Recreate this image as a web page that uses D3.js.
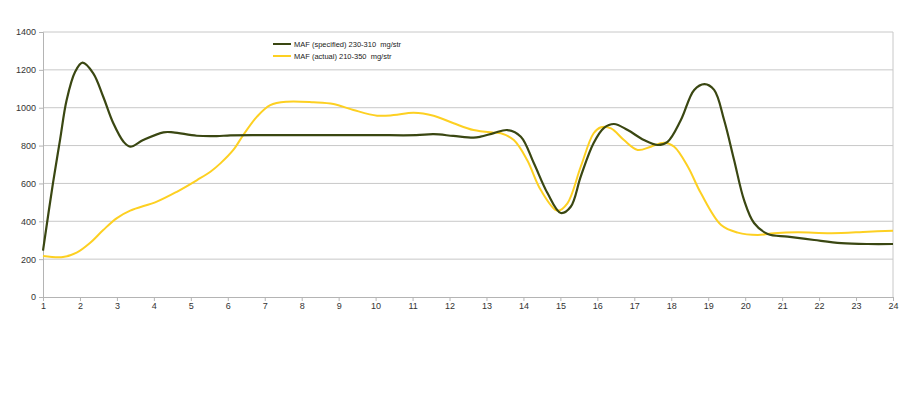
<!DOCTYPE html>
<html>
<head>
<meta charset="utf-8">
<script src="https://cdn.jsdelivr.net/npm/d3@7"></script>
<style>
  body { margin: 0; background: #fff; }
  text { font-family: "Liberation Sans", Arial, sans-serif; }
</style>
</head>
<body>
<div id="chart"></div>
<script>
// series (x = position on the 1..24 axis)
const specX = [1, 1.27, 1.46, 1.64, 1.87, 2.07, 2.36, 2.63, 2.9, 3.18, 3.36, 3.71, 4.26, 4.52, 5.16, 5.7, 6.07,
  7, 8, 9, 10, 11.1, 11.57, 12.1, 12.65, 12.84, 13.2, 13.57, 13.93, 14.28, 14.65, 15.01, 15.28, 15.55, 15.9,
  16.18, 16.45, 16.82, 17.26, 17.63, 17.9, 18.26, 18.62, 18.9, 19.16, 19.43, 19.7, 19.97, 20.24, 20.61,
  21.15, 21.87, 22.6, 23.32, 24];
const specVal = [245, 602, 829, 1041, 1190, 1238, 1182, 1058, 919, 820, 794, 829, 870, 870, 852, 850, 854,
  855, 855, 855, 855, 855, 860, 851, 842, 847, 866, 882, 847, 708, 549, 444, 477, 636, 813,
  893, 914, 882, 829, 803, 820, 935, 1094, 1125, 1094, 935, 724, 512, 391, 333,
  319, 301, 285, 280, 280];

const actX = [1, 1.54, 1.91, 2.27, 2.63, 3, 3.36, 4.08, 4.62, 5.17, 5.53, 5.8, 6.15, 6.42, 6.79, 7.15, 7.6,
  8.32, 8.86, 9.4, 10.04, 10.49, 11.03, 11.57, 12.11, 12.65, 13.2, 13.39, 13.74, 14.1, 14.47, 14.92, 15.19,
  15.55, 15.9, 16.1, 16.37, 16.72, 17.09, 17.45, 17.81, 18.08, 18.45, 18.8, 19.35, 19.8, 20.34, 20.78,
  21.42, 22.33, 23.32, 24];
const actVal = [217, 211, 234, 285, 354, 417, 456, 504, 556, 618, 662, 706, 777, 856, 953, 1014, 1032,
  1029, 1020, 988, 958, 961, 974, 958, 918, 882, 868, 865, 829, 724, 565, 456, 495,
  688, 865, 897, 891, 829, 777, 794, 815, 794, 688, 549, 380, 340, 328, 337,
  342, 337, 345, 350];

const xTicks = d3.range(1, 25);
const yTicks = [0, 200, 400, 600, 800, 1000, 1200, 1400];
const seriesNames = ["MAF (specified) 230-310  mg/str", "MAF (actual) 210-350  mg/str"];
const seriesColors = ["#3a4712", "#fdd022"];

const W = 900, H = 408;
const margin = {top: 32, right: 7, bottom: 111, left: 43};
const width = W - margin.left - margin.right,
      height = H - margin.top - margin.bottom;

const svg = d3.select("#chart").append("svg")
  .attr("width", W).attr("height", H)
  .append("g")
  .attr("transform", `translate(${margin.left},${margin.top})`);

const x = d3.scaleLinear().domain([1, 24]).range([0, width]);
const y = d3.scaleLinear().domain([0, 1400]).range([height, 0]);

// gridlines
svg.append("g").selectAll("line")
  .data(yTicks.filter(d => d > 0))
  .join("line")
  .attr("x1", 0).attr("x2", width)
  .attr("y1", d => y(d)).attr("y2", d => y(d))
  .attr("stroke", "#c8c8c8").attr("stroke-width", 1);

// right frame line
svg.append("line")
  .attr("x1", width).attr("x2", width)
  .attr("y1", 0).attr("y2", height)
  .attr("stroke", "#c8c8c8");

// Y axis
const yAxis = svg.append("g")
  .call(d3.axisLeft(y).tickValues(yTicks).tickSize(4).tickPadding(3).tickFormat(d3.format("d")));
// X axis
const xAxis = svg.append("g")
  .attr("transform", `translate(0,${height})`)
  .call(d3.axisBottom(x).tickValues(xTicks).tickSize(4).tickPadding(2).tickFormat(d3.format("d")));

[yAxis, xAxis].forEach(a => {
  a.select(".domain").attr("stroke", "#b4b4b4");
  a.selectAll(".tick line").attr("stroke", "#b4b4b4");
  a.selectAll(".tick text").attr("fill", "#333").style("font-size", "9px");
});

// lines
const line = d3.line()
  .x(d => x(d[0]))
  .y(d => y(d[1]))
  .curve(d3.curveCatmullRom.alpha(0.5));

const series = [d3.zip(specX, specVal), d3.zip(actX, actVal)];

svg.append("path")
  .datum(series[1])
  .attr("fill", "none")
  .attr("stroke", seriesColors[1])
  .attr("stroke-width", 2)
  .attr("d", line);

svg.append("path")
  .datum(series[0])
  .attr("fill", "none")
  .attr("stroke", seriesColors[0])
  .attr("stroke-width", 2.2)
  .attr("d", line);

// legend
const legend = svg.append("g")
  .attr("transform", `translate(${273 - margin.left},${44 - margin.top})`);
seriesNames.forEach((name, i) => {
  const g = legend.append("g").attr("transform", `translate(0,${i * 12})`);
  g.append("line")
    .attr("x1", 0).attr("x2", 18)
    .attr("stroke", seriesColors[i]).attr("stroke-width", 2);
  g.append("text")
    .attr("x", 21).attr("dy", "0.35em")
    .attr("fill", "#222")
    .style("font-size", "7.5px")
    .style("white-space", "pre")
    .text(name);
});
</script>
</body>
</html>
